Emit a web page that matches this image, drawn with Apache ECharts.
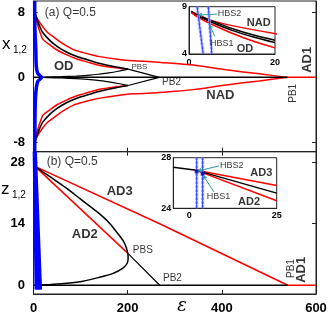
<!DOCTYPE html>
<html><head><meta charset="utf-8">
<script src="https://cdn.jsdelivr.net/npm/echarts@6/dist/echarts.min.js"></script>
<style>html,body{margin:0;padding:0;background:#fff}#c{width:332px;height:315px}</style>
</head><body><div id="c"></div>
<script>
// ---------- Panel (a): x_{1,2} vs eps ----------
const aOuterEps = [0.5, 2, 4.6, 10, 20.8, 30, 42, 55, 70, 85, 106, 125, 141, 175, 212, 250, 289, 339, 410, 480, 540];
const aOuterX   = [8.5, 8.2, 7.63, 7.0, 6.1, 5.5, 4.98, 4.4, 3.85, 3.4, 3.03, 2.75, 2.54, 2.25, 2.02, 1.92, 1.75, 1.5, 0.92, 0.43, 0];
const aBlackEps = [0.5, 2, 5, 10, 15, 20, 35, 50, 70, 88, 106, 125, 141, 170, 201];
const aBlackX   = [8.5, 8.1, 7.55, 6.7, 6.0, 5.45, 4.5, 3.8, 3.1, 2.65, 2.3, 1.97, 1.7, 1.33, 1.0];
const aBlack2X  = [8.45, 8.0, 7.4, 6.5, 5.8, 5.2];
const aInnerEps = [0.5, 2, 5, 10, 15, 20, 35, 50, 70, 88, 106, 125, 141, 170, 201];
const aInnerX   = [8.4, 7.9, 7.2, 6.2, 5.35, 4.65, 3.97, 3.35, 2.78, 2.35, 2.02, 1.7, 1.45, 1.2, 1.0];
const aWedgeEps = [201, 180, 160, 140, 120, 90, 60, 30, 12];
const aWedgeX   = [1.0, 0.75, 0.55, 0.4, 0.27, 0.16, 0.08, 0.03, 0];
const aPB2Eps   = [201, 267];
const aPB2X     = [1.0, 0];
const baseBlackEps = [0, 540];
const baseRedEps   = [540, 600];
const baseZero     = [0, 0];
const aBlueEps  = [2.5, 3, 4.9, 6, 9, 17, 9, 6, 4, 3, 2.5];
const aBlueX    = [9.35, 6, 3.4, 1.3, 0.5, 0, -0.5, -1.3, -2.7, -6, -9.1];
// inset (a)
const aInsBlue1Eps = [1.9, 3.3];
const aInsBlue2Eps = [4.5, 5.3];
const aInsBlueX    = [9, 4];

// ---------- Panel (b): z_{1,2} vs eps ----------
const bAD3Eps   = [3.2, 268, 540];
const bAD3Z     = [27.05, 14.0, 0];
const bAD2Eps   = [3.2, 200];
const bAD2Z     = [27.05, 7.3];
const bBlackEps = [3.2, 35, 70, 100, 134, 160, 176, 190, 197, 200, 201, 199, 190, 169, 140, 105, 70, 35, 7];
const bBlackZ   = [27.05, 24.7, 22.1, 19.6, 16.8, 14.3, 12.2, 10.2, 8.6, 7.3, 6.2, 5.0, 3.9, 2.7, 1.8, 0.9, 0.45, 0.18, 0];
const bPB2Eps   = [200, 268];
const bPB2Z     = [7.3, 0];
const bBlueTopEps = [1, 2, 3, 4.5];
const bBlueBotEps = [5, 8.5, 12, 15.5];
const bBlueZ      = [30.4, -1];
// inset (b)
const bInsBlackEps = [-4.6, 2, 25];
const bInsBlackZ   = [27.25, 27.0, 25.2];
const bInsFanEps   = [2, 25];
const bInsAD3Z     = [27.0, 25.8];
const bInsAD2Z     = [27.0, 24.6];
const bInsBlueEps  = [2.1, 3.8];
const bInsBlueZ    = [24, 28];
const bInsHopfZ    = [26.92, 26.75];

// tick labels
const aTicks = [-8, 0, 8];
const bTicks = [0, 14, 28];
const epsTicks = [0, 200, 400, 600];
const epsInner = [200, 400];

const FONT = "'Liberation Sans', Arial, sans-serif";
const RED = '#ff0000', BLK = '#000000', BLUE = '#0000ff', TEAL = '#2a9a9a';

function pts(xs, ys) { return ys.map((y, i) => [xs[i], y]); }
function line(xi, yi, data, color, width, extra) {
  return Object.assign({type: 'line', xAxisIndex: xi, yAxisIndex: yi, data: data, symbol: 'none',
    lineStyle: {color: color, width: width}, itemStyle: {color: color}, silent: true, z: 3}, extra || {});
}
function neg(a) { return a.map(v => -v); }

const series = [];
// panel (a) main: grid0 (x0,y0)
series.push(line(0, 0, pts(aOuterEps, aOuterX), RED, 1.5, {smooth: 0.3}));
series.push(line(0, 0, pts(aOuterEps, neg(aOuterX)), RED, 1.5, {smooth: 0.3}));
series.push(line(0, 0, pts(aInnerEps, aInnerX), RED, 1.5, {smooth: 0.3}));
series.push(line(0, 0, pts(aInnerEps, neg(aInnerX)), RED, 1.5, {smooth: 0.3}));
series.push(line(0, 0, pts(aBlackEps, aBlackX), BLK, 1.6, {smooth: 0.3}));
series.push(line(0, 0, pts(aBlackEps, neg(aBlackX)), BLK, 1.6, {smooth: 0.3}));
series.push(line(0, 0, pts(aWedgeEps, aWedgeX), BLK, 1.2, {smooth: 0.3}));
series.push(line(0, 0, pts(aWedgeEps, neg(aWedgeX)), BLK, 1.2, {smooth: 0.3}));
series.push(line(0, 0, pts(aPB2Eps, aPB2X), BLK, 1.2));
series.push(line(0, 0, pts(aPB2Eps, neg(aPB2X)), BLK, 1.2));
series.push(line(0, 0, pts(baseBlackEps, baseZero), BLK, 1.5));
series.push(line(0, 0, pts(baseRedEps, baseZero), RED, 1.5));
series.push(line(0, 0, pts(aBlueEps, aBlueX), BLUE, 3.5, {smooth: 0.3, z: 4}));

// panel (b) main: grid1 (x1,y2)
series.push(line(1, 2, pts(bAD3Eps, bAD3Z), RED, 1.5));
series.push(line(1, 2, pts(bAD2Eps, bAD2Z), RED, 1.5));
series.push(line(1, 2, pts(bBlackEps, bBlackZ), BLK, 1.5, {smooth: 0.3}));
series.push(line(1, 2, pts(bPB2Eps, bPB2Z), BLK, 1.2));
series.push(line(1, 2, pts(baseBlackEps, baseZero), BLK, 1.5));
series.push(line(1, 2, pts(baseRedEps, baseZero), RED, 1.5));
bBlueTopEps.forEach((e, i) => {
  series.push(line(1, 2, [[e, bBlueZ[0]], [bBlueBotEps[i], bBlueZ[1]]], BLUE, 2.6, {z: 4}));
});

// inset (a): grid2 (x3,y4)
series.push(line(3, 4, pts(aOuterEps.slice(0, 6), aOuterX.slice(0, 6)), RED, 1.5, {smooth: 0.3}));
series.push(line(3, 4, pts(aBlackEps, aBlackX.slice(0, 6)), BLK, 1.5, {smooth: 0.3}));
series.push(line(3, 4, pts(aBlackEps, aBlack2X), BLK, 1.5, {smooth: 0.3}));
series.push(line(3, 4, pts(aInnerEps, aInnerX.slice(0, 6)), RED, 1.5, {smooth: 0.3}));
[aInsBlue1Eps, aInsBlue2Eps].forEach(e => {
  series.push(line(3, 4, pts(e, aInsBlueX), '#9aa6ff', 3, {z: 4, lineStyle: {color: '#9aa6ff', width: 3, type: [3, 1]}}));
  series.push(line(3, 4, pts(e, aInsBlueX), '#3040ff', 1, {z: 5}));
});

// inset (b): grid3 (x4,y5)
series.push(line(4, 5, pts(bInsFanEps, bInsAD3Z), RED, 1.5));
series.push(line(4, 5, pts(bInsFanEps, bInsAD2Z), RED, 1.5));
series.push(line(4, 5, pts(bInsBlackEps, bInsBlackZ), BLK, 1.5));
bInsBlueEps.forEach(e => {
  series.push(line(4, 5, [[e, bInsBlueZ[0]], [e, bInsBlueZ[1]]], '#9aa6ff', 3, {z: 4, lineStyle: {color: '#9aa6ff', width: 3, type: [3, 1]}}));
  series.push(line(4, 5, [[e, bInsBlueZ[0]], [e, bInsBlueZ[1]]], '#3040ff', 1, {z: 5}));
});
series.push({type: 'scatter', xAxisIndex: 4, yAxisIndex: 5, symbol: 'rect', symbolSize: 4, z: 6,
  itemStyle: {color: '#0000aa'}, data: pts(bInsBlueEps, bInsHopfZ), silent: true});

// arrows (HBS)
function arrows(xi, yi, list) {
  return {type: 'lines', coordinateSystem: 'cartesian2d', xAxisIndex: xi, yAxisIndex: yi, z: 7,
    symbol: ['none', 'arrow'], symbolSize: 4, silent: true,
    lineStyle: {color: TEAL, width: 1, opacity: 1, curveness: 0},
    data: list.map(c => ({coords: c}))};
}
series.push(arrows(3, 4, [[[6.6, 8.22], [2.2, 8.12]], [[6.0, 5.85], [4.75, 7.1]]]));
series.push(arrows(4, 5, [[[8.5, 27.35], [2.4, 26.95]], [[7.0, 25.3], [4.0, 26.6]]]));

// text annotations in data coordinates
function texts(xi, yi, items) {
  return {type: 'scatter', xAxisIndex: xi, yAxisIndex: yi, symbolSize: 0, silent: true, z: 8, clip: false,
    data: items.map(it => ({value: [it[0], it[1]], label: Object.assign({show: true, position: 'inside',
      formatter: it[2], color: '#000', fontFamily: FONT, fontSize: 12, fontWeight: 'normal', align: 'center',
      verticalAlign: 'middle'}, it[3] || {})}))};
}
const B13 = {fontSize: 13, fontWeight: 'bold'};
series.push(texts(0, 0, [
  [24, 7.9, '(a) Q=0.5', {align: 'left', fontSize: 12}],
  [64, 1.35, 'OD', B13],
  [208, 1.35, 'PBS', {align: 'left', fontSize: 8}],
  [273, -0.6, 'PB2', {align: 'left', fontSize: 10}],
  [397, -2.15, 'NAD', B13],
  [552, -1.95, 'PB1', {fontSize: 10, rotate: 90}],
  [582, 2.15, 'AD1', Object.assign({rotate: 90}, B13)]
]));
series.push(texts(1, 2, [
  [28, 28.2, '(b) Q=0.5', {align: 'left', fontSize: 12}],
  [183, 21.3, 'AD3', B13],
  [109, 11.5, 'AD2', B13],
  [211, 8.0, 'PBS', {align: 'left', fontSize: 10}],
  [275, 1.65, 'PB2', {align: 'left', fontSize: 10}],
  [548, 3.8, 'PB1', {fontSize: 10, rotate: 90}],
  [569, 3.5, 'AD1', Object.assign({rotate: 90}, B13)]
]));
series.push(texts(3, 4, [
  [16.2, 7.28, 'NAD', {fontSize: 11, fontWeight: 'bold'}],
  [13, 4.55, 'OD', {fontSize: 11, fontWeight: 'bold'}],
  [6.7, 8.23, 'HBS2', {align: 'left', fontSize: 9}],
  [4.9, 5.16, 'HBS1', {align: 'left', fontSize: 9}]
]));
series.push(texts(4, 5, [
  [20.6, 26.77, 'AD3', {fontSize: 11, fontWeight: 'bold'}],
  [17.1, 24.52, 'AD2', {fontSize: 11, fontWeight: 'bold'}],
  [8.8, 27.37, 'HBS2', {align: 'left', fontSize: 9}],
  [5.0, 24.92, 'HBS1', {align: 'left', fontSize: 9}]
]));

function vAxis(o) {
  return Object.assign({type: 'value', splitLine: {show: false},
    axisLine: {show: true, onZero: false, lineStyle: {color: '#222', width: 1}},
    axisTick: {show: false}, axisLabel: {show: false}}, o);
}
function lab(vals, size, margin) {
  return {show: true, customValues: vals, fontSize: size, fontWeight: 'bold', color: '#000', fontFamily: FONT, margin: margin};
}
function tick(vals) {
  return {show: true, inside: true, length: 4, customValues: vals, lineStyle: {color: '#222', width: 1}};
}

const option = {
  animation: false,
  backgroundColor: '#fff',
  grid: [
    {left: 33.5, right: 16, top: 1, height: 150.7, show: true, borderColor: '#222', borderWidth: 1},
    {left: 33.5, right: 16, top: 151.7, height: 142.3, show: true, borderColor: '#222', borderWidth: 1},
    {left: 189, width: 86, top: 6.7, height: 47.3, show: true, borderColor: '#222', borderWidth: 1, backgroundColor: '#fff'},
    {left: 173.3, width: 103.4, top: 157.7, height: 50.6, show: true, borderColor: '#222', borderWidth: 1, backgroundColor: '#fff'}
  ],
  xAxis: [
    vAxis({gridIndex: 0, min: 0, max: 600, position: 'bottom', axisTick: tick(epsInner)}),
    vAxis({gridIndex: 1, min: 0, max: 600, position: 'bottom', axisTick: tick(epsInner), axisLabel: lab(epsTicks, 13, 7.5)}),
    vAxis({gridIndex: 1, min: 0, max: 600, position: 'top', axisTick: tick(epsInner)}),
    vAxis({gridIndex: 2, min: 0, max: 20, position: 'bottom', axisLabel: lab([0, 20], 9, 4)}),
    vAxis({gridIndex: 3, min: -4.6, max: 25, position: 'bottom', axisLabel: lab([0, 25], 9, 3)})
  ],
  yAxis: [
    vAxis({gridIndex: 0, min: -9.1, max: 9.35, position: 'left', axisTick: tick(aTicks), axisLabel: lab(aTicks, 13, 8.5)}),
    vAxis({gridIndex: 0, min: -9.1, max: 9.35, position: 'right', axisTick: tick(aTicks)}),
    vAxis({gridIndex: 1, min: -2, max: 30.4, position: 'left', axisTick: tick(bTicks), axisLabel: lab(bTicks, 13, 8.5)}),
    vAxis({gridIndex: 1, min: -2, max: 30.4, position: 'right', axisTick: tick(bTicks)}),
    vAxis({gridIndex: 2, min: 4, max: 9, position: 'left', axisLabel: lab([4, 9], 9, 2)}),
    vAxis({gridIndex: 3, min: 24, max: 28, position: 'left', axisLabel: lab([24, 28], 9, 2)})
  ],
  graphic: [
    {type: 'text', x: 2, y: 36, style: {text: 'x', fontSize: 17, fontFamily: FONT, fill: '#000'}},
    {type: 'text', x: 13, y: 45, style: {text: '1,2', fontSize: 10, fontFamily: FONT, fill: '#000'}},
    {type: 'text', x: 1, y: 181, style: {text: 'z', fontSize: 17, fontFamily: FONT, fill: '#000'}},
    {type: 'text', x: 12, y: 190, style: {text: '1,2', fontSize: 10, fontFamily: FONT, fill: '#000'}},
    {type: 'text', x: 182, y: 306, style: {text: '\u03b5', fontSize: 18, fontStyle: 'italic', fontFamily: "'DejaVu Serif', 'Liberation Serif', serif", fill: '#000', align: 'center', verticalAlign: 'middle'}}
  ],
  series: series
};
const chart = echarts.init(document.getElementById('c'), null, {renderer: 'canvas'});
chart.setOption(option);
</script></body></html>
